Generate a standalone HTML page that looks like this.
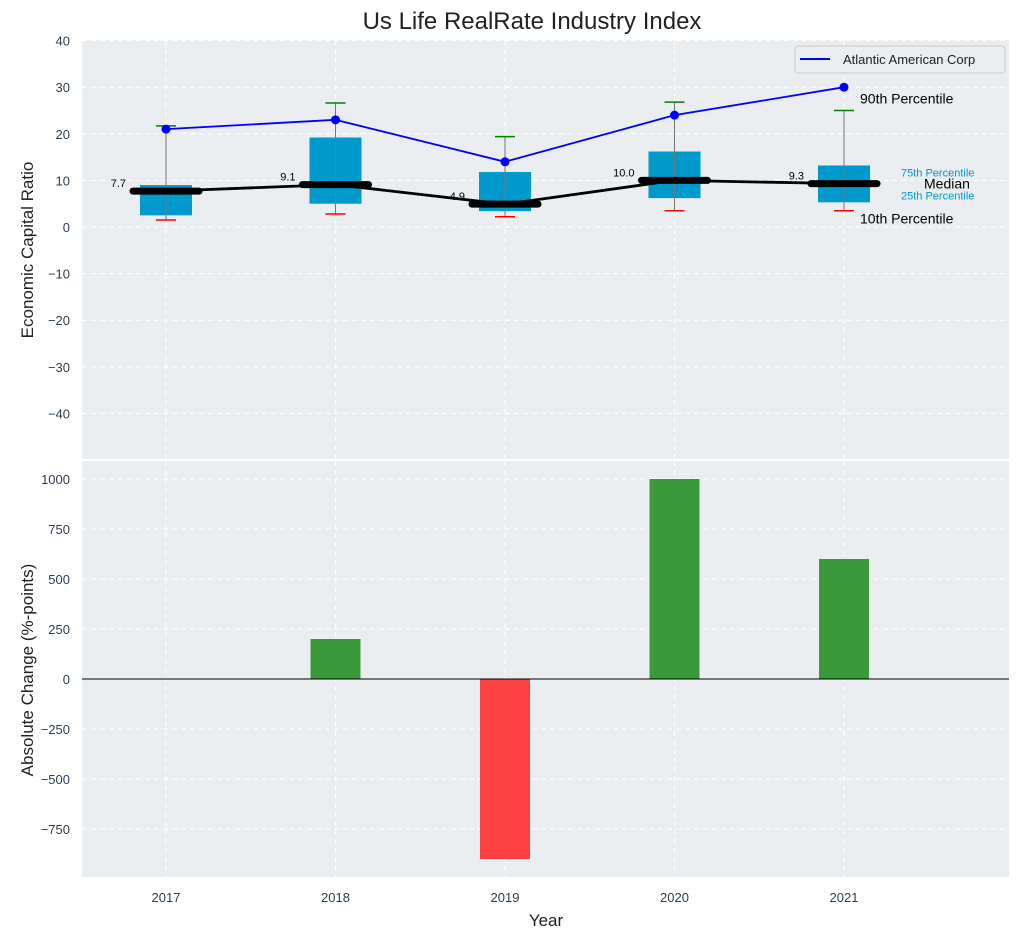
<!DOCTYPE html>
<html><head><meta charset="utf-8"><style>
body{margin:0;background:#fff;font-family:"Liberation Sans",sans-serif}
svg text{font-family:"Liberation Sans",sans-serif}
</style></head><body>
<svg id="c" width="1021" height="940"></svg>
<script>
const years=["2017","2018","2019","2020","2021"];
const p10=[1.5,2.8,2.2,3.5,3.5];
const p25=[2.5,5.0,3.4,6.2,5.3];
const median=[7.7,9.1,4.9,10.0,9.3];
const p75=[9.0,19.2,11.8,16.2,13.2];
const p90=[21.7,26.6,19.4,26.8,25.0];
const company=[21,23,14,24,30];
const change=[0,200,-900,1000,600];
const yTicksTop=[40,30,20,10,0,-10,-20,-30,-40];
const yTicksBot=[1000,750,500,250,0,-250,-500,-750];

const NS="http://www.w3.org/2000/svg";
const svg=document.getElementById('c');
function el(t,a,txt){const e=document.createElementNS(NS,t);for(const k in a)e.setAttribute(k,a[k]);if(txt!==undefined)e.textContent=txt;svg.appendChild(e);return e;}
const L=82,R=1009;
const x=i=>166+i*169.5;
const yT=v=>227-v*4.66;
const yB=v=>679-v*0.2;
const topY0=40,topY1=459,botY0=461,botY1=877;

let e;
e=el('rect',{x:L,y:topY0,width:R-L,height:topY1-topY0,fill:'#eaeef0'});

e=el('rect',{x:L,y:botY0,width:R-L,height:botY1-botY0,fill:'#eaeef0'});


years.forEach((y,i)=>{
 el('line',{x1:x(i),x2:x(i),y1:topY0,y2:topY1,stroke:'#fff','stroke-dasharray':'5,4','stroke-width':1});
 el('line',{x1:x(i),x2:x(i),y1:botY0,y2:botY1,stroke:'#fff','stroke-dasharray':'5,4','stroke-width':1});
 e=el('text',{x:x(i),y:902,'text-anchor':'middle','font-size':13,fill:'#2c3e50'},y);
 
});
yTicksTop.forEach(v=>{
 el('line',{x1:L,x2:R,y1:yT(v),y2:yT(v),stroke:'#fff','stroke-dasharray':'5,4'});
 e=el('text',{x:70,y:yT(v)+5,'text-anchor':'end','font-size':13,fill:'#2c3e50'},v<0?'−'+(-v):v);
 
});
yTicksBot.forEach(v=>{
 el('line',{x1:L,x2:R,y1:yB(v),y2:yB(v),stroke:'#fff','stroke-dasharray':'5,4'});
 e=el('text',{x:70,y:yB(v)+5,'text-anchor':'end','font-size':13,fill:'#2c3e50'},v<0?'−'+(-v):v);
 
});

years.forEach((y,i)=>{
 const cx=x(i);
 e=el('rect',{x:cx-26,y:yT(p75[i]),width:52,height:yT(p25[i])-yT(p75[i]),fill:'#0099cc'});
 
 el('line',{x1:cx,x2:cx,y1:yT(p90[i]),y2:yT(p10[i]),stroke:'#777','stroke-width':1});
 e=el('line',{x1:cx-10,x2:cx+10,y1:yT(p90[i]),y2:yT(p90[i]),stroke:'green','stroke-width':1.5});
 
 e=el('line',{x1:cx-10,x2:cx+10,y1:yT(p10[i]),y2:yT(p10[i]),stroke:'red','stroke-width':1.5});
 
});
e=el('polyline',{points:years.map((y,i)=>x(i)+','+yT(median[i])).join(' '),fill:'none',stroke:'#000','stroke-width':2.8});

years.forEach((y,i)=>{
 e=el('line',{x1:x(i)-33,x2:x(i)+33,y1:yT(median[i]),y2:yT(median[i]),stroke:'#000','stroke-width':7,'stroke-linecap':'round'});
 
 e=el('text',{x:x(i)-40,y:yT(median[i])-4,'text-anchor':'end','font-size':11,fill:'#000'},median[i].toFixed(1));
 
});
e=el('polyline',{points:years.map((y,i)=>x(i)+','+yT(company[i])).join(' '),fill:'none',stroke:'blue','stroke-width':1.8});

years.forEach((y,i)=>{e=el('circle',{cx:x(i),cy:yT(company[i]),r:4.5,fill:'blue'});
 });

const li=4,ax=x(li)+16;
[['90th Percentile',ax,yT(p90[li])-7,14,'#000'],['10th Percentile',ax,yT(p10[li])+13,14,'#000'],
 ['Median',924,yT(median[li])+5,14,'#000'],['75th Percentile',901,yT(median[li])-7,11,'#0099cc'],
 ['25th Percentile',901,yT(median[li])+16,11,'#0099cc']].forEach(a=>{
 e=el('text',{x:a[1],y:a[2],'font-size':a[3],fill:a[4]},a[0]);
 });

e=el('rect',{x:795,y:46,width:210,height:27,rx:3,fill:'#eaeef0',stroke:'#ccc'});

el('line',{x1:800,x2:830,y1:59,y2:59,stroke:'blue','stroke-width':2});
e=el('text',{x:843,y:64,'font-size':13,fill:'#222'},'Atlantic American Corp');


years.forEach((y,i)=>{
 const v=change[i];if(!v)return;
 e=el('rect',{x:x(i)-25,y:Math.min(yB(v),yB(0)),width:50,height:Math.abs(yB(v)-yB(0)),fill:v>0?'#3a9a3a':'#ff4040'});
 
});
el('line',{x1:L,x2:R,y1:yB(0),y2:yB(0),stroke:'#000','stroke-width':1});

e=el('text',{x:532,y:29,'text-anchor':'middle','font-size':24,fill:'#222'},'Us Life RealRate Industry Index');

e=el('text',{x:0,y:0,'text-anchor':'middle','font-size':17,fill:'#222',transform:'translate(33,250) rotate(-90)'},'Economic Capital Ratio');

e=el('text',{x:0,y:0,'text-anchor':'middle','font-size':17,fill:'#222',transform:'translate(33,670) rotate(-90)'},'Absolute Change (%-points)');

e=el('text',{x:546,y:926,'text-anchor':'middle','font-size':17,fill:'#222'},'Year');

</script>
</body></html>
